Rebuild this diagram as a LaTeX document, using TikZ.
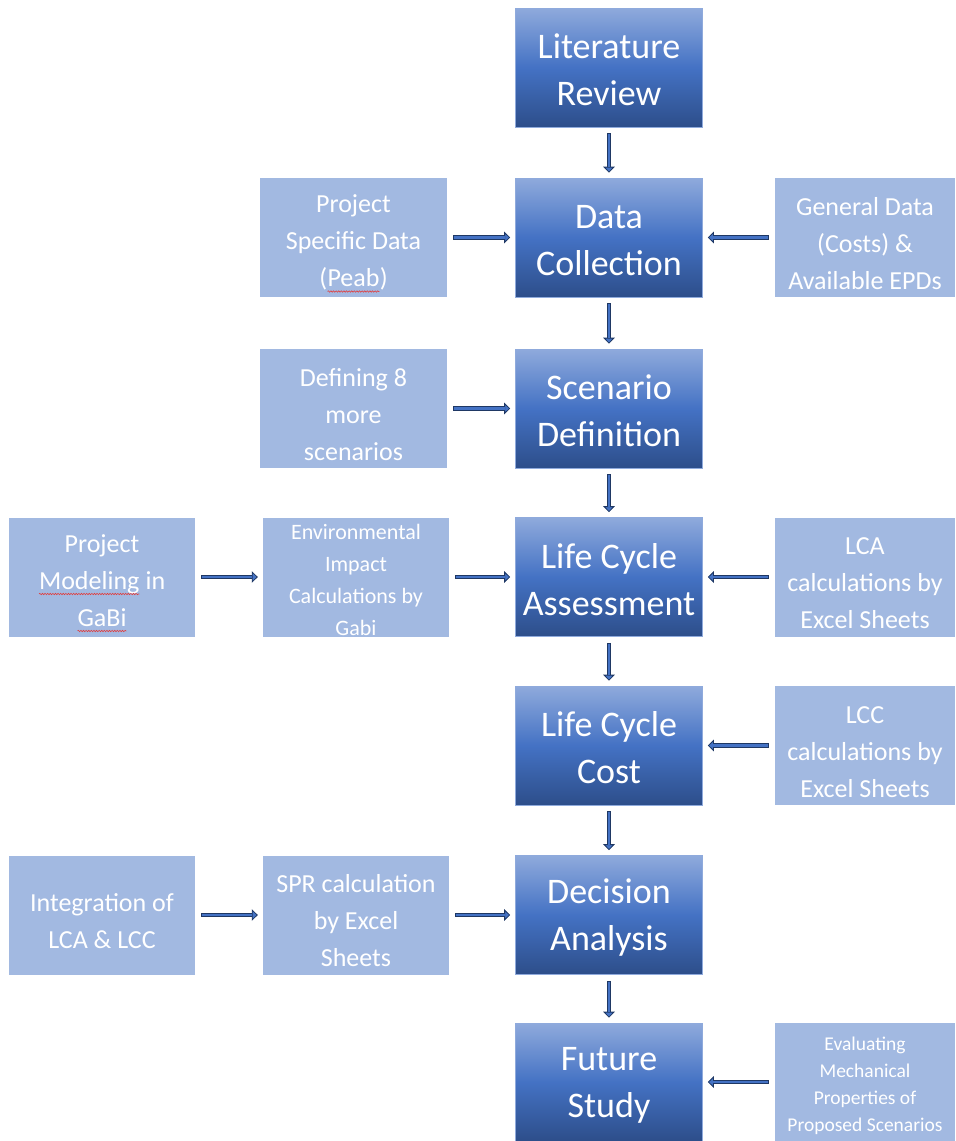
\documentclass[tikz,border=0pt]{standalone}
\usepackage{fontspec}
\setmainfont{Carlito}
\usetikzlibrary{arrows.meta,decorations.pathmorphing}
\definecolor{lightbox}{RGB}{162,185,225}
\definecolor{gtop}{RGB}{143,170,220}
\definecolor{gmid}{RGB}{68,114,196}
\definecolor{gbot}{RGB}{45,78,138}
\definecolor{navyc}{RGB}{31,56,100}
\definecolor{arrblue}{RGB}{68,114,196}
\definecolor{spellred}{RGB}{225,60,60}
\newcommand{\spell}[1]{\tikz[baseline=(sw.base)]{\node[inner sep=0pt,outer sep=0pt,minimum width=0pt,minimum height=0pt,fill=none,draw=none,shape=rectangle](sw){#1};\draw[spellred,line width=0.6pt,decorate,decoration={snake,amplitude=0.7pt,segment length=2.6pt}] ([yshift=-5pt]sw.base west) -- ([yshift=-5pt]sw.base east);}}
\newcommand{\firststrut}[1]{\rule{0pt}{#1}}
\begin{document}
\begin{tikzpicture}[x=1pt,y=-1pt,
  mainbox/.style={shape=rectangle,minimum width=187pt,minimum height=119pt,inner sep=0pt,
    top color=gtop,bottom color=gbot,middle color=gmid,draw=gtop,line width=0.6pt,
    text=white,align=center,font=\fontsize{36}{47}\selectfont},
  lbox/.style={shape=rectangle,minimum width=187pt,minimum height=119pt,inner sep=0pt,
    fill=lightbox,draw=none,text=white,align=center,font=\fontsize{26}{37}\selectfont},
  rbox/.style={lbox,minimum width=180pt},
  barrow/.style={shorten <=6pt,shorten >=5pt,draw=navyc,line width=4.8pt,
    -{Triangle[length=6pt,width=11.5pt,line width=0.8pt,fill=arrblue]},
    postaction={draw=arrblue,line width=2.2pt,-,shorten <=6.9pt,shorten >=10.6pt}}
]
\useasboundingbox (0,0) rectangle (956,1141);
% main column
\node[mainbox] (lit) at (609,67.5) {\firststrut{30pt}Literature\\Review};
\node[mainbox] (dc) at (609,237.5) {\firststrut{30pt}Data\\Collection};
\node[mainbox] (sd) at (609,408.5) {\firststrut{30pt}Scenario\\Definition};
\node[mainbox] (lca) at (609,577) {\firststrut{30pt}Life Cycle\\Assessment};
\node[mainbox] (lcc) at (609,745.5) {\firststrut{30pt}Life Cycle\\Cost};
\node[mainbox] (da) at (609,915) {\firststrut{30pt}Decision\\Analysis};
\node[mainbox,minimum height=118pt] (fs) at (609,1082) {\firststrut{30pt}Future\\Study};
% left
\node[lbox] (psd) at (353.5,237.5) {\firststrut{30pt}Project\\Specific Data\\(\spell{Peab})};
\node[lbox] (def) at (353.5,408.5) {\firststrut{30pt}Defining 8\\more\\scenarios};
\node[lbox,minimum width=186pt,font=\fontsize{22}{32}\selectfont] (eic) at (356,577) {\firststrut{22pt}Environmental\\Impact\\Calculations by\\Gabi};
\node[lbox,minimum width=186pt] (pm) at (102,577) {\firststrut{30pt}Project\\\spell{Modeling} in\\\spell{GaBi}};
\node[lbox,minimum width=186pt] (spr) at (356,915) {\firststrut{30pt}SPR calculation\\by Excel\\Sheets};
\node[lbox,minimum width=186pt] (int) at (102,915) {\firststrut{30pt}Integration of\\LCA \& LCC};
% right
\node[rbox] (gd) at (865,237.5) {\firststrut{30pt}General Data\\(Costs) \&\\Available EPDs};
\node[rbox] (lcacalc) at (865,577) {\firststrut{30pt}LCA\\calculations by\\Excel Sheets};
\node[rbox] (lcccalc) at (865,745.5) {\firststrut{30pt}LCC\\calculations by\\Excel Sheets};
\node[rbox,minimum height=118pt,font=\fontsize{19.5}{27}\selectfont] (ev) at (865,1082) {\firststrut{22pt}Evaluating\\Mechanical\\Properties of\\Proposed Scenarios};
% arrows
\draw[barrow] (lit) -- (dc);
\draw[barrow] (dc) -- (sd);
\draw[barrow] (sd) -- (lca);
\draw[barrow] (lca) -- (lcc);
\draw[barrow] (lcc) -- (da);
\draw[barrow] (da) -- (fs);
\draw[barrow] (psd) -- (dc);
\draw[barrow] (def) -- (sd);
\draw[barrow] (pm) -- (eic);
\draw[barrow] (eic) -- (lca);
\draw[barrow] (int) -- (spr);
\draw[barrow] (spr) -- (da);
\draw[barrow] (gd) -- (dc);
\draw[barrow] (lcacalc) -- (lca);
\draw[barrow] (lcccalc) -- (lcc);
\draw[barrow] (ev) -- (fs);
\end{tikzpicture}
\end{document}
